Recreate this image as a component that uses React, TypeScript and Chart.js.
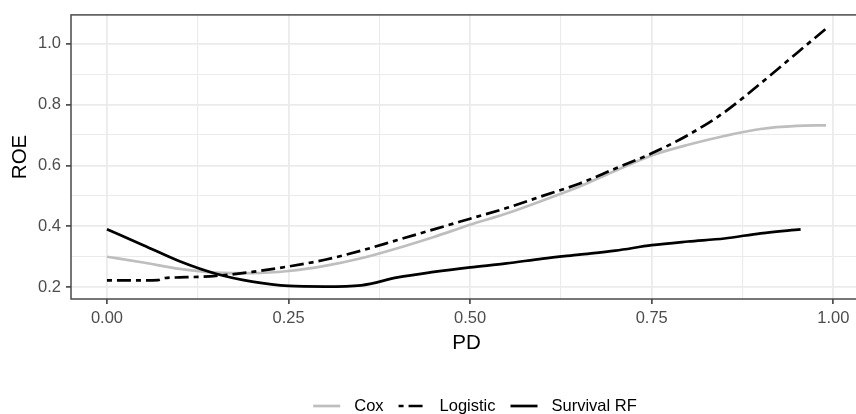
import { useEffect, useRef } from 'react';
import { Chart, registerables } from 'chart.js';

Chart.register(...registerables);

const seriesNames = ['Cox', 'Logistic', 'Survival RF'];

const coxPD = [0, 0.05, 0.1, 0.15, 0.2, 0.25, 0.3, 0.35, 0.4, 0.45, 0.5, 0.55, 0.6, 0.65, 0.7, 0.75, 0.8, 0.85, 0.9, 0.95, 0.99];
const coxROE = [0.300, 0.281, 0.260, 0.248, 0.246, 0.253, 0.270, 0.295, 0.328, 0.365, 0.405, 0.442, 0.485, 0.530, 0.583, 0.633, 0.668, 0.697, 0.720, 0.730, 0.732];

const logisticPD = [0, 0.05, 0.07, 0.08, 0.1, 0.15, 0.2, 0.25, 0.3, 0.35, 0.4, 0.45, 0.5, 0.55, 0.6, 0.65, 0.7, 0.75, 0.8, 0.85, 0.9, 0.95, 0.99];
const logisticROE = [0.222, 0.222, 0.223, 0.230, 0.232, 0.237, 0.250, 0.268, 0.290, 0.320, 0.355, 0.390, 0.425, 0.460, 0.500, 0.540, 0.590, 0.640, 0.700, 0.775, 0.870, 0.970, 1.050];

const survivalPD = [0, 0.05, 0.1, 0.15, 0.2, 0.25, 0.3, 0.35, 0.4, 0.45, 0.5, 0.55, 0.6, 0.65, 0.7, 0.75, 0.8, 0.85, 0.9, 0.955];
const survivalROE = [0.390, 0.338, 0.285, 0.244, 0.218, 0.204, 0.202, 0.206, 0.232, 0.250, 0.265, 0.278, 0.294, 0.307, 0.320, 0.338, 0.350, 0.360, 0.377, 0.390];

const xMajorTicks = [0, 0.25, 0.5, 0.75, 1.0];
const xMinorTicks = [0.125, 0.375, 0.625, 0.875];
const yMajorTicks = [0.2, 0.4, 0.6, 0.8, 1.0];
const yMinorTicks = [0.3, 0.5, 0.7, 0.9];

const FONT = '"Liberation Sans", Arial, sans-serif';

const isIn = (list: number[], v: number) => list.some((m) => Math.abs(m - v) < 1e-9);

const toPoints = (xs: number[], ys: number[]) => xs.map((x, i) => ({ x, y: ys[i] }));

const borderPlugin = {
  id: 'panelBorder',
  afterDatasetsDraw(chart: any) {
    const { ctx, chartArea } = chart;
    ctx.save();
    ctx.strokeStyle = '#4a4a4a';
    ctx.lineWidth = 1.5;
    ctx.strokeRect(chartArea.left, chartArea.top, chartArea.right - chartArea.left, chartArea.bottom - chartArea.top);
    ctx.restore();
  },
};

const legendPlugin = {
  id: 'ggLegend',
  afterDraw(chart: any) {
    const ctx = chart.ctx;
    ctx.save();
    ctx.font = `16.5px ${FONT}`;
    const keyW = 27;
    const keyGap = 14;
    const itemGap = 15;
    const items = chart.data.datasets.map((ds: any) => ({
      label: ds.label,
      color: ds.borderColor,
      dash: ds.borderDash || [],
      width: ds.borderWidth,
    }));
    const widths = items.map((it: any) => ctx.measureText(it.label).width);
    const total = widths.reduce((a: number, w: number) => a + keyW + keyGap + w, 0) + itemGap * (items.length - 1);
    let x = 475 - total / 2;
    const y = 406;
    items.forEach((it: any, i: number) => {
      ctx.beginPath();
      ctx.setLineDash(it.dash);
      ctx.strokeStyle = it.color;
      ctx.lineWidth = it.width;
      ctx.moveTo(x, y);
      ctx.lineTo(x + keyW, y);
      ctx.stroke();
      ctx.setLineDash([]);
      ctx.fillStyle = '#000000';
      ctx.textAlign = 'left';
      ctx.textBaseline = 'middle';
      ctx.fillText(it.label, x + keyW + keyGap, y);
      x += keyW + keyGap + widths[i] + itemGap;
    });
    ctx.restore();
  },
};

export default function App() {
  const canvasRef = useRef<HTMLCanvasElement | null>(null);

  useEffect(() => {
    if (!canvasRef.current) return;
    const tickFont = { family: FONT, size: 16.5 };
    const titleFont = { family: FONT, size: 20.5 };
    const chart = new Chart(canvasRef.current, {
      type: 'line',
      data: {
        datasets: [
          {
            label: seriesNames[0],
            data: toPoints(coxPD, coxROE),
            borderColor: '#BEBEBE',
            borderWidth: 2.7,
            pointRadius: 0,
            cubicInterpolationMode: 'monotone',
            order: 3,
          },
          {
            label: seriesNames[1],
            data: toPoints(logisticPD, logisticROE),
            borderColor: '#000000',
            borderWidth: 2.7,
            borderDash: [5, 5, 14, 5],
            pointRadius: 0,
            cubicInterpolationMode: 'monotone',
            order: 2,
          },
          {
            label: seriesNames[2],
            data: toPoints(survivalPD, survivalROE),
            borderColor: '#000000',
            borderWidth: 2.7,
            pointRadius: 0,
            cubicInterpolationMode: 'monotone',
            order: 1,
          },
        ],
      } as any,
      options: {
        animation: false,
        responsive: false,
        devicePixelRatio: 1,
        layout: { padding: { top: 14, right: 8, left: 0, bottom: 0 } },
        plugins: {
          legend: { display: false },
          tooltip: { enabled: false },
        },
        scales: {
          x: {
            type: 'linear',
            min: -0.0495,
            max: 1.0395,
            afterBuildTicks: (scale: any) => {
              scale.ticks = [...xMajorTicks, ...xMinorTicks].sort((a, b) => a - b).map((v) => ({ value: v }));
            },
            afterFit: (scale: any) => {
              scale.height = 115;
            },
            ticks: {
              autoSkip: false,
              maxRotation: 0,
              font: tickFont,
              color: '#4D4D4D',
              padding: 5,
              callback: (v: any) => (isIn(xMinorTicks, Number(v)) ? '' : Number(v).toFixed(2)),
            },
            grid: {
              color: '#EBEBEB',
              lineWidth: (c: any) => (c.tick && isIn(xMinorTicks, c.tick.value) ? 1.1 : 1.8),
              tickLength: 5,
              tickWidth: 1.5,
              tickColor: (c: any) => (c.tick && isIn(xMinorTicks, c.tick.value) ? 'rgba(0,0,0,0)' : '#333333'),
            },
            border: { display: false },
            title: {
              display: true,
              text: 'PD',
              font: titleFont,
              color: '#000000',
              padding: { top: 0, bottom: 58.7 },
            },
          },
          y: {
            type: 'linear',
            min: 0.161,
            max: 1.095,
            afterBuildTicks: (scale: any) => {
              scale.ticks = [...yMajorTicks, ...yMinorTicks].sort((a, b) => a - b).map((v) => ({ value: v }));
            },
            afterFit: (scale: any) => {
              scale.width = 71;
            },
            ticks: {
              autoSkip: false,
              font: tickFont,
              color: '#4D4D4D',
              padding: 5,
              callback: (v: any) => (isIn(yMinorTicks, Number(v)) ? '' : Number(v).toFixed(1)),
            },
            grid: {
              color: '#EBEBEB',
              lineWidth: (c: any) => (c.tick && isIn(yMinorTicks, c.tick.value) ? 1.1 : 1.8),
              tickLength: 5,
              tickWidth: 1.5,
              tickColor: (c: any) => (c.tick && isIn(yMinorTicks, c.tick.value) ? 'rgba(0,0,0,0)' : '#333333'),
            },
            border: { display: false },
            title: {
              display: true,
              text: 'ROE',
              font: titleFont,
              color: '#000000',
              padding: { top: 7.7, bottom: 0 },
            },
          },
        },
      } as any,
      plugins: [borderPlugin, legendPlugin],
    });
    return () => chart.destroy();
  }, []);

  return (
    <div
      style={{
        position: 'absolute',
        left: 0,
        top: 0,
        width: 856,
        height: 414,
        overflow: 'hidden',
        background: '#ffffff',
      }}
    >
      <canvas ref={canvasRef} width={870} height={414} style={{ display: 'block', width: 870, height: 414 }} />
    </div>
  );
}
